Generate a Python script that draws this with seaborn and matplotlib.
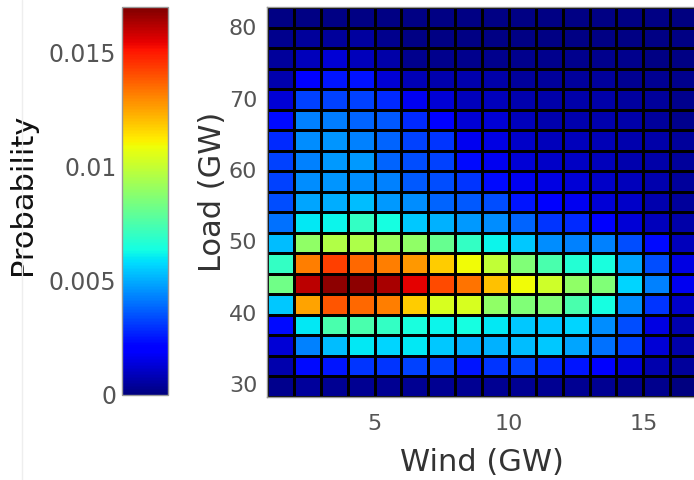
import matplotlib.pyplot as plt
import matplotlib.lines as mlines
import numpy as np
import pandas as pd
import seaborn as sns

# wind bins (GW), 1 GW wide
wind_centers = [1.5, 2.5, 3.5, 4.5, 5.5, 6.5, 7.5, 8.5, 9.5, 10.5, 11.5, 12.5, 13.5, 14.5, 15.5, 16.5]
# load bins (GW), listed top row first
load_centers = [81.4, 78.5, 75.6, 72.7, 69.9, 67.0, 64.1, 61.2, 58.4, 55.5,
                52.6, 49.7, 46.9, 44.0, 41.1, 38.2, 35.4, 32.5, 29.6]

wind_ticks = [5, 10, 15]
load_ticks = [30, 40, 50, 60, 70, 80]
prob_ticks = [0, 0.005, 0.01, 0.015]
prob_tick_labels = ['0', '0.005', '0.01', '0.015']
prob_max = 0.017

# joint probability, rows = load bins (top to bottom), cols = wind bins
prob = [
    [0.0001, 0.0001, 0.0001, 0.0001, 0.0001, 0.0001, 0.0001, 0.0001, 0.0001, 0.0001, 0.0001, 0.0001, 0.0001, 0.0001, 0.0001, 0.0000],
    [0.0002, 0.0004, 0.0004, 0.0005, 0.0002, 0.0001, 0.0001, 0.0001, 0.0001, 0.0001, 0.0001, 0.0001, 0.0001, 0.0001, 0.0001, 0.0001],
    [0.0004, 0.0009, 0.0013, 0.0009, 0.0006, 0.0002, 0.0002, 0.0002, 0.0002, 0.0002, 0.0002, 0.0002, 0.0002, 0.0002, 0.0001, 0.0001],
    [0.0007, 0.0021, 0.0025, 0.0024, 0.0013, 0.0008, 0.0007, 0.0007, 0.0006, 0.0004, 0.0004, 0.0004, 0.0004, 0.0003, 0.0003, 0.0002],
    [0.0013, 0.0032, 0.0032, 0.0032, 0.0028, 0.0017, 0.0013, 0.0009, 0.0009, 0.0007, 0.0006, 0.0006, 0.0006, 0.0005, 0.0004, 0.0002],
    [0.0023, 0.0043, 0.0042, 0.0038, 0.0036, 0.0028, 0.0020, 0.0013, 0.0013, 0.0009, 0.0007, 0.0007, 0.0007, 0.0006, 0.0004, 0.0002],
    [0.0028, 0.0045, 0.0046, 0.0043, 0.0038, 0.0032, 0.0030, 0.0017, 0.0015, 0.0011, 0.0009, 0.0009, 0.0008, 0.0007, 0.0006, 0.0004],
    [0.0032, 0.0043, 0.0047, 0.0047, 0.0038, 0.0034, 0.0032, 0.0023, 0.0017, 0.0013, 0.0011, 0.0010, 0.0009, 0.0007, 0.0006, 0.0004],
    [0.0032, 0.0045, 0.0046, 0.0045, 0.0043, 0.0036, 0.0034, 0.0030, 0.0023, 0.0017, 0.0015, 0.0013, 0.0011, 0.0009, 0.0007, 0.0004],
    [0.0034, 0.0049, 0.0050, 0.0053, 0.0047, 0.0045, 0.0038, 0.0036, 0.0034, 0.0025, 0.0020, 0.0017, 0.0013, 0.0011, 0.0007, 0.0004],
    [0.0040, 0.0060, 0.0062, 0.0070, 0.0064, 0.0055, 0.0051, 0.0047, 0.0045, 0.0038, 0.0030, 0.0028, 0.0020, 0.0013, 0.0009, 0.0006],
    [0.0053, 0.0089, 0.0096, 0.0095, 0.0091, 0.0089, 0.0081, 0.0070, 0.0062, 0.0055, 0.0045, 0.0043, 0.0043, 0.0034, 0.0023, 0.0009],
    [0.0070, 0.0132, 0.0143, 0.0136, 0.0132, 0.0127, 0.0118, 0.0109, 0.0099, 0.0086, 0.0075, 0.0067, 0.0065, 0.0049, 0.0034, 0.0015],
    [0.0083, 0.0161, 0.0168, 0.0168, 0.0164, 0.0155, 0.0141, 0.0134, 0.0120, 0.0109, 0.0102, 0.0089, 0.0086, 0.0057, 0.0043, 0.0017],
    [0.0055, 0.0125, 0.0139, 0.0136, 0.0132, 0.0118, 0.0104, 0.0104, 0.0089, 0.0086, 0.0086, 0.0075, 0.0064, 0.0045, 0.0030, 0.0011],
    [0.0023, 0.0060, 0.0075, 0.0075, 0.0070, 0.0065, 0.0062, 0.0064, 0.0060, 0.0055, 0.0055, 0.0057, 0.0045, 0.0034, 0.0015, 0.0007],
    [0.0013, 0.0043, 0.0053, 0.0060, 0.0057, 0.0060, 0.0055, 0.0051, 0.0051, 0.0053, 0.0055, 0.0049, 0.0040, 0.0032, 0.0013, 0.0006],
    [0.0007, 0.0023, 0.0025, 0.0030, 0.0030, 0.0032, 0.0032, 0.0025, 0.0030, 0.0032, 0.0028, 0.0025, 0.0020, 0.0013, 0.0007, 0.0004],
    [0.0002, 0.0004, 0.0003, 0.0003, 0.0003, 0.0003, 0.0003, 0.0003, 0.0003, 0.0003, 0.0003, 0.0003, 0.0003, 0.0002, 0.0002, 0.0000],
]

sns.set_theme(style='white')
plt.rcParams['font.family'] = ['DejaVu Sans']

fig = plt.figure(figsize=(6.94, 4.80), dpi=100)
ax = fig.add_axes([267 / 694, 1 - 397 / 480, 430 / 694, 390 / 480])
cax = fig.add_axes([122 / 694, 1 - 395 / 480, 46 / 694, 388 / 480])

df = pd.DataFrame(prob, index=load_centers, columns=wind_centers)
sns.heatmap(df, ax=ax, cmap='jet', vmin=0, vmax=prob_max,
            linewidths=1.0, linecolor='black', cbar_ax=cax,
            xticklabels=False, yticklabels=False)

# map data values onto heatmap cell coordinates
dw = wind_centers[1] - wind_centers[0]
dl = (load_centers[0] - load_centers[-1]) / (len(load_centers) - 1)
xpos = [(t - (wind_centers[0] - dw / 2)) / dw for t in wind_ticks]
ypos = [((load_centers[0] + dl / 2) - t) / dl for t in load_ticks]

ax.set_xticks(xpos)
ax.set_xticklabels([str(t) for t in wind_ticks])
ax.set_yticks(ypos)
ax.set_yticklabels([str(t) for t in load_ticks], rotation=0)
ax.tick_params(axis='both', which='both', bottom=True, left=True, direction='in',
               length=4, color='#333333', labelsize=16, labelcolor='#555555')
ax.tick_params(axis='x', pad=12)
ax.tick_params(axis='y', pad=7)
for s in ax.spines.values():
    s.set_visible(True)
    s.set_color('#999999')
    s.set_linewidth(1.0)

ax.set_xlabel('Wind (GW)', fontsize=22, color='#333333')
ax.set_ylabel('Load (GW)', fontsize=22, color='#333333')
ax.xaxis.set_label_coords(0.5, -0.13)
ax.yaxis.set_label_coords(-0.093, 0.526)

# colorbar on the left
cbar = ax.collections[0].colorbar
cbar.set_ticks(prob_ticks)
cbar.set_ticklabels(prob_tick_labels)
cax.yaxis.set_ticks_position('left')
cax.yaxis.set_label_position('left')
cax.tick_params(left=True, direction='in', length=4, color='#333333',
                labelsize=17, labelcolor='#555555', pad=4)
cbar.outline.set_linewidth(1.0)
cbar.outline.set_edgecolor('#999999')
cbar.set_label('Probability', fontsize=22, color='#111111')
cax.yaxis.set_label_coords(-1.85, 0.518)

# faint page edge on the far left
fig.add_artist(mlines.Line2D([22 / 694, 22 / 694], [0, 1], color='#eeeeee', lw=1))

fig.savefig('out.png', dpi=100)
